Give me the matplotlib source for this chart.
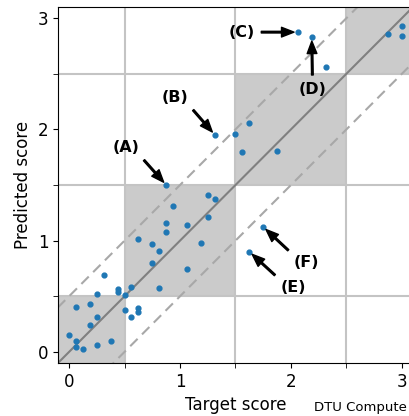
import numpy as np
import matplotlib
matplotlib.use("Agg")
from matplotlib import pyplot as plt
from matplotlib.patches import Rectangle
from matplotlib.ticker import MultipleLocator

# target scores (multiples of 1/16) and predicted scores
target = [0.0, 0.0625, 0.0625, 0.125, 0.0625, 0.1875, 0.25, 0.1875, 0.25, 0.375,
          0.25, 0.3125, 0.4375, 0.4375, 0.5, 0.5625, 0.5, 0.5625, 0.625, 0.625,
          0.625, 0.75, 0.75, 0.8125, 0.8125, 0.875, 0.875, 0.9375, 1.0625, 1.0625,
          1.1875, 0.875, 1.25, 1.3125, 1.25, 1.3125, 1.5, 1.625, 1.5625, 1.875,
          2.0625, 2.1875, 2.3125, 2.875, 3.0, 3.0, 1.75, 1.625]
predicted = [0.15, 0.10, 0.04, 0.03, 0.405, 0.43, 0.31, 0.24, 0.06, 0.10,
             0.52, 0.69, 0.565, 0.535, 0.51, 0.585, 0.375, 0.31, 0.396, 0.36,
             1.015, 0.967, 0.80, 0.907, 0.57, 1.16, 1.075, 1.31, 1.14, 0.745,
             0.975, 1.50, 1.41, 1.375, 1.216, 1.952, 1.955, 2.054, 1.80, 1.805,
             2.874, 2.83, 2.565, 2.86, 2.93, 2.84, 1.123, 0.90]

# annotated points: label, point, text position
labels = ['(A)', '(B)', '(C)', '(D)', '(E)', '(F)']
label_points = [(0.875, 1.50), (1.3125, 1.952), (2.0625, 2.874),
                (2.1875, 2.83), (1.625, 0.90), (1.75, 1.123)]
label_text_pos = [(0.51, 1.84), (0.955, 2.29), (1.554, 2.874),
                  (2.194, 2.36), (2.02, 0.577), (2.14, 0.80)]

fig = plt.figure(figsize=(4.1, 4.16), dpi=100)
ax = fig.add_axes([58/410, 53/416, 355/410, 356/416])

for k in range(4):
    ax.add_patch(Rectangle((k - 0.5, k - 0.5), 1, 1, facecolor='#cbcbcb',
                           edgecolor='none', zorder=0))

ax.xaxis.set_major_locator(MultipleLocator(1))
ax.yaxis.set_major_locator(MultipleLocator(1))
ax.xaxis.set_minor_locator(MultipleLocator(0.5))
ax.yaxis.set_minor_locator(MultipleLocator(0.5))
ax.grid(which='minor', color='#c4c4c4', linewidth=1.5, zorder=0.5)
ax.set_axisbelow(True)

line = np.array([-1, 4])
ax.plot(line, line, color='#808080', linewidth=1.5, zorder=1)
ax.plot(line, line + 0.5, color='#a8a8a8', linewidth=1.5, dashes=(5, 3), zorder=1)
ax.plot(line, line - 0.5, color='#a8a8a8', linewidth=1.5, dashes=(5, 3), zorder=1)

ax.scatter(target, predicted, s=12, color='#1f77b4', zorder=3)

for lab, pt, tp in zip(labels, label_points, label_text_pos):
    ax.annotate(lab, xy=pt, xytext=tp, ha='center', va='center',
                fontsize=11.5, fontweight='bold',
                arrowprops=dict(facecolor='black', width=1.2, headwidth=7,
                                headlength=9, shrink=0.09))

ax.set_xlim(-0.1, 3.1)
ax.set_ylim(-0.1, 3.1)
ax.tick_params(which='both', labelsize=12, length=3.5)
ax.tick_params(which='minor', labelbottom=False, labelleft=False)
ax.set_xlabel('Target score', fontsize=12)
ax.set_ylabel('Predicted score', fontsize=12)

fig.text(407/410, 9/416, 'DTU Compute', ha='right', va='center', fontsize=9.5)

fig.savefig('out.png', dpi=100)
